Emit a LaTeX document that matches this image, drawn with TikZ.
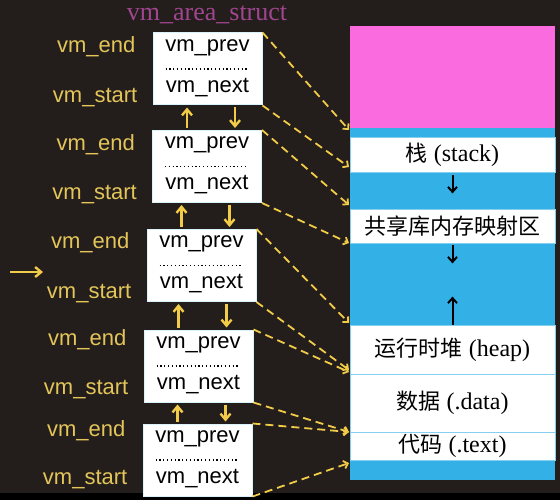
\documentclass[tikz,border=0pt]{standalone}
\usepackage{fontspec}
\setmainfont{Liberation Sans}
\newfontfamily\seriffont{Liberation Serif}
\newfontfamily\cjk{Noto Sans CJK SC}
\usetikzlibrary{arrows.meta,calc}
\definecolor{mycolor}{HTML}{231E1B}
\definecolor{mycolor2}{HTML}{E3C55A}
\definecolor{mycolor3}{HTML}{F2CC48}
\definecolor{mycolor4}{HTML}{F96BDF}
\definecolor{mycolor5}{HTML}{33B0E6}
\definecolor{mycolor6}{HTML}{A0458F}
\newcommand{\zh}[1]{{\fontsize{22}{24}\selectfont\cjk #1}}

\begin{document}
\begin{tikzpicture}[x=1pt, y=-1pt,
    vmbox/.style={draw=cyan!15, line width=1pt, fill=white, minimum width=109pt, minimum height=72pt, inner sep=0pt},
    boxtext/.style={font=\fontsize{22}{24}\selectfont, text=black, inner sep=0pt},
    lbl/.style={font=\fontsize{22}{24}\selectfont, text=mycolor2, inner sep=0pt},
    seg/.style={fill=white, draw=mycolor5!60, line width=0.8pt, minimum width=205pt, inner sep=0pt, font=\fontsize{24}{26}\selectfont\seriffont},
    yarrow/.style={-{Straight Barb[length=6pt,width=10pt]}, line width=2.4pt, mycolor3},
    ydash/.style={dash pattern=on 8pt off 5pt, line width=1.8pt, mycolor3, -{Straight Barb[length=4pt,width=8pt]}},
    karrow/.style={-{Straight Barb[length=5pt,width=9pt]}, line width=2pt, black}]

% Background
    \fill[mycolor] (0,0) rectangle (560,500);
    \fill[black] (0,493) rectangle (560,500);
    \useasboundingbox (0,0) rectangle (560,500);

% Title
    \node[font=\fontsize{26}{28}\selectfont\seriffont, text=mycolor6, inner sep=0pt, anchor=base] (title) at (207,21) {vm\_area\_struct};

% Memory layout
    % Blue and magenta parts
    \node[seg, fill=mycolor5, draw=none, minimum height=352pt] (mem) at (452.5,304) {};
    \node[seg, fill=mycolor4, draw=none, minimum height=102pt] (top) at (452.5,77) {};
    % White parts
    \node[seg, minimum height=35pt] (stack) at (452.5,154.5) {\zh{栈} (stack)};
    \node[seg, minimum height=34pt] (shared) at (452.5,226) {\zh{共享库内存映射区}};
    \node[seg, minimum height=49pt] (heap) at (452.5,349.5) {\zh{运行时堆} (heap)};
    \node[seg, minimum height=58pt] (data) at (452.5,403) {\zh{数据} (.data)};
    \node[seg, minimum height=28pt] (code) at (452.5,446) {\zh{代码} (.text)};

    % Growth arrows
    \draw[karrow] ([yshift=-3pt]stack.south) -- ++(0,18);
    \draw[karrow] ([yshift=-2pt]shared.south) -- ++(0,18);
    \draw[karrow] (heap.north) -- ++(0,-28);

% vm_area_struct boxes
    \foreach \n/\x/\y/\ye/\ys in {1/207.5/69/47/98, 2/207/166.5/145/195, 3/201.5/265.5/243/294, 4/198.5/366/340/390, 5/197.5/460/431/480} {
        \node[vmbox] (b\n) at (\x,\y) {};
        \node[boxtext] (prev\n) at ($(b\n.north)+(0,15)$) {vm\_prev};
        \draw[line width=1.3pt, dash pattern=on 1.2pt off 2.6pt] ($(b\n.west)+(13,0)$) -- ($(b\n.east)+(-14,0)$);
        \node[boxtext] (next\n) at ($(b\n.south)+(0,-18)$) {vm\_next};
        % Labels
        \node[lbl, anchor=east] (end\n) at (\x-72,\ye) {vm\_end};
        \node[lbl, anchor=east] (start\n) at (\x-70,\ys) {vm\_start};
    }

    % Arrows between boxes
    \foreach \n/\m in {1/2, 2/3, 3/4, 4/5} {
        \draw[yarrow] ($(b\m.north west)+(35,-2)$) -- ($(b\n.south -| b\m.west)+(35,2)$);
        \draw[yarrow] ($(b\n.south -| b\m.west)+(83,2)$) -- ($(b\m.north west)+(83,-2)$);
    }

% Dashed lines to memory
    \foreach \k/\yy in {1/130, 2/167, 3/205, 4/243, 5/323, 6/370, 7/372, 8/432, 9/432, 10/463} {
        \coordinate (m\k) at (349,\yy);
    }
    \draw[ydash] (b1.north east) -- (m1);
    \draw[ydash] (b1.south east) -- (m2);
    \draw[ydash] (b2.north east) -- (m3);
    \draw[ydash] (b2.south east) -- (m4);
    \draw[ydash] (b3.north east) -- (m5);
    \draw[ydash] (b3.south east) -- (m6);
    \draw[ydash] (b4.north east) -- (m7);
    \draw[ydash] (b4.south east) -- (m8);
    \draw[ydash] (b5.north east) -- (m9);
    \draw[ydash] (b5.south east) -- (m10);

% Input arrow
    \coordinate (in1) at (10,272);
    \coordinate (in2) at (43,272);
    \draw[yarrow] (in1) -- (in2);

\end{tikzpicture}
\end{document}
